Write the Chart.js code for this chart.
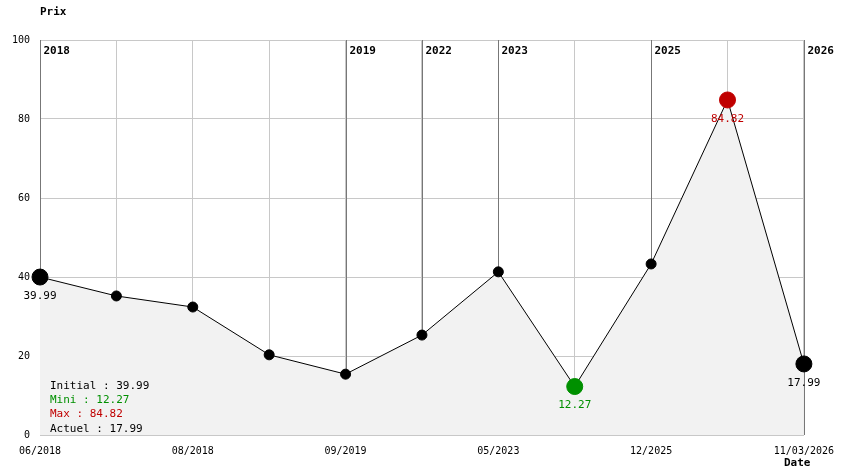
<!DOCTYPE html>
<html>
<head>
<meta charset="utf-8">
<script src="https://cdn.jsdelivr.net/npm/chart.js@4"></script>
<style>
  body { margin: 0; background: #fff; }
  #wrap { width: 844px; height: 474px; }
</style>
</head>
<body>
<div id="wrap"><canvas id="priceChart"></canvas></div>
<script>
// data
const dates = ['06/2018', '07/2018', '08/2018', '01/2019', '09/2019', '03/2022', '05/2023', '11/2024', '12/2025', '06/2026', '11/03/2026'];
const prices = [39.99, 35.2, 32.4, 20.3, 15.4, 25.3, 41.3, 12.27, 43.3, 84.82, 17.99];
const shownTicks = [0, 2, 4, 6, 8, 10];
const yearMarks = [[0, '2018'], [4, '2019'], [5, '2022'], [6, '2023'], [8, '2025'], [10, '2026']];

const FONT = 'DejaVu Sans Mono';
const iMin = prices.indexOf(Math.min(...prices));
const iMax = prices.indexOf(Math.max(...prices));
const last = prices.length - 1;

const pointColor = prices.map((v, i) => i === iMin ? '#009000' : i === iMax ? '#c00000' : '#000');
const pointSize = prices.map((v, i) => (i === 0 || i === last || i === iMin || i === iMax) ? 8 : 5);

const overlay = {
    id: 'overlay',
    beforeDatasetsDraw(chart) {
        const { ctx, chartArea, scales } = chart;
        ctx.save();
        ctx.strokeStyle = '#777';
        ctx.lineWidth = 1;
        ctx.fillStyle = '#000';
        ctx.font = 'bold 11px ' + FONT;
        ctx.textBaseline = 'middle';
        yearMarks.forEach(([i, txt]) => {
            const x = Math.round(scales.x.getPixelForValue(i)) + 0.5;
            ctx.beginPath();
            ctx.moveTo(x, chartArea.top);
            ctx.lineTo(x, chartArea.bottom);
            ctx.stroke();
            ctx.fillText(txt, x + 3, chartArea.top + 11);
        });
        ctx.restore();
    },
    afterDatasetsDraw(chart) {
        const { ctx, scales } = chart;
        ctx.save();
        ctx.font = '11px ' + FONT;
        ctx.textAlign = 'center';
        ctx.textBaseline = 'middle';
        [0, iMin, iMax, last].forEach(i => {
            ctx.fillStyle = pointColor[i];
            ctx.fillText(prices[i].toFixed(2), scales.x.getPixelForValue(i), scales.y.getPixelForValue(prices[i]) + 19);
        });
        // summary box
        ctx.textAlign = 'left';
        const lines = [
            ['Initial : ' + prices[0].toFixed(2), '#000'],
            ['Mini : ' + prices[iMin].toFixed(2), '#009000'],
            ['Max : ' + prices[iMax].toFixed(2), '#c00000'],
            ['Actuel : ' + prices[last].toFixed(2), '#000']
        ];
        lines.forEach(([t, c], k) => {
            ctx.fillStyle = c;
            ctx.fillText(t, 50, 386 + k * 14.3);
        });
        ctx.font = 'bold 11px ' + FONT;
        ctx.fillStyle = '#000';
        ctx.fillText('Prix', 40, 12);
        ctx.fillText('Date', 784, 463);
        ctx.restore();
    }
};

new Chart(document.getElementById('priceChart'), {
    type: 'line',
    data: {
        labels: dates,
        datasets: [{
            data: prices,
            borderColor: '#000',
            borderWidth: 1,
            tension: 0,
            fill: 'origin',
            backgroundColor: '#f2f2f2',
            pointBackgroundColor: pointColor,
            pointBorderColor: pointColor,
            pointRadius: pointSize
        }]
    },
    options: {
        responsive: true,
        maintainAspectRatio: false,
        animation: false,
        layout: { padding: { top: 40, right: 39, left: 0, bottom: 0 } },
        plugins: { legend: { display: false }, tooltip: { enabled: false } },
        scales: {
            x: {
                type: 'category',
                offset: false,
                afterFit(s) { s.height = 39; },
                grid: { color: '#c8c8c8', drawTicks: false },
                border: { color: '#c8c8c8' },
                ticks: {
                    autoSkip: false,
                    maxRotation: 0,
                    padding: 10,
                    color: '#000',
                    font: { family: FONT, size: 10 },
                    callback: (v, i) => shownTicks.includes(i) ? dates[i] : ''
                }
            },
            y: {
                min: 0,
                max: 100,
                afterFit(s) { s.width = 40; },
                grid: { color: '#c8c8c8', drawTicks: false },
                border: { color: '#c8c8c8' },
                ticks: {
                    stepSize: 20,
                    padding: 10,
                    color: '#000',
                    font: { family: FONT, size: 10 }
                }
            }
        }
    },
    plugins: [overlay]
});
</script>
</body>
</html>
